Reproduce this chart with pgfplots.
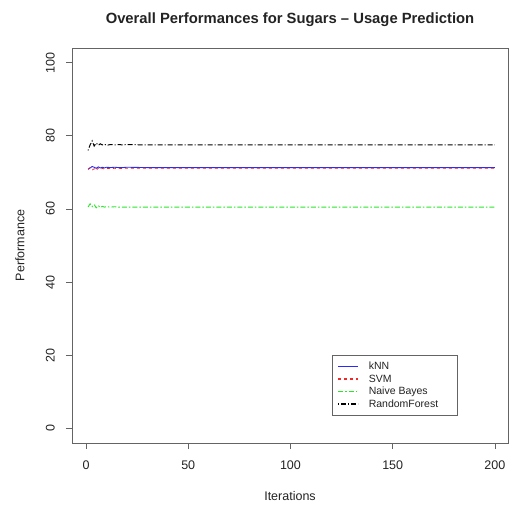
\documentclass[border=0pt]{standalone}
\usepackage{fontspec}
\setmainfont{Liberation Sans}
\usepackage{pgfplots}
\pgfplotsset{compat=1.18}
\definecolor{nbgreen}{RGB}{40,230,40}
\definecolor{axgray}{RGB}{100,100,100}
\definecolor{txt}{RGB}{35,35,35}
\definecolor{knnblue}{RGB}{40,40,255}
\definecolor{svmred}{RGB}{240,40,40}
\begin{document}
\begin{tikzpicture}[x=1pt,y=1pt]
\path[use as bounding box] (0,0) rectangle (509,509);
\begin{axis}[
  at={(72pt,66pt)}, anchor=south west,
  scale only axis, width=436pt, height=395pt,
  xmin=-6.85, xmax=206.4, ymin=-4, ymax=104,
  xtick={0,50,100,150,200}, ytick={0,20,40,60,80,100},
  tick align=outside, major tick length=6pt,
  xtick pos=left, ytick pos=left,
  axis line style={axgray, line width=0.8pt},
  every tick/.style={axgray, line width=0.8pt},
  tick label style={font=\fontsize{12.5}{14}\selectfont, text=txt},
  /pgf/number format/assume math mode=true,
  xticklabel style={anchor=north, inner sep=0pt, yshift=-12pt},
  yticklabel style={xshift=-11pt, rotate=90, anchor=south, inner sep=0pt},
  xlabel={Iterations}, ylabel={Performance},
  label style={font=\fontsize{12.5}{14}\selectfont, text=txt},
  xlabel style={at={(axis description cs:0.5,-0.134)}, anchor=center},
  ylabel style={at={(axis description cs:-0.1193,0.5)}, rotate=0, anchor=center},
  title={\bfseries Overall Performances for Sugars -- Usage Prediction},
  title style={font=\fontsize{14.8}{16}\selectfont, text=txt, at={(axis description cs:0.5,1.056)}, anchor=center},
  legend style={at={(0.596,0.068)}, anchor=south west, draw=axgray, line width=0.8pt,
    font=\fontsize{10.5}{12.7}\selectfont, text=txt, inner xsep=5pt, inner ysep=5pt,
    row sep=-0.5pt, cells={anchor=west}},
  legend cell align=left,
  legend image code/.code={\draw[#1, line width=1.5pt] (0pt,0pt) -- (20pt,0pt);},
]
\addplot[color=knnblue, draw=knnblue, line width=0.9pt] coordinates {
(1,70.8) (2,71.2) (3,71.6) (4,71.4) (5,71.1) (6,71.5) (7,71.2) (8,71.4) (9,71.2) (10,71.4)
(12,71.3) (14,71.4) (16,71.3) (18,71.3) (20,71.4) (30,71.3) (40,71.3) (50,71.3) (60,71.3)
(70,71.3) (80,71.3) (90,71.3) (100,71.3) (110,71.3) (120,71.3) (130,71.3) (140,71.3)
(150,71.3) (160,71.3) (170,71.3) (180,71.3) (190,71.3) (200,71.3)};
\addlegendentry{\hspace*{8pt}kNN}
\addplot[color=svmred, draw=svmred, line width=0.7pt, dash pattern=on 3pt off 3pt] coordinates {
(1,70.9) (2,71.3) (3,70.6) (4,71.0) (5,70.5) (6,71.2) (7,70.8) (8,71.1) (9,70.9) (10,71.1)
(12,71.0) (14,71.1) (16,71.0) (18,71.1) (20,71.1) (30,71.1) (40,71.1) (50,71.1) (60,71.1)
(70,71.1) (80,71.1) (90,71.1) (100,71.1) (110,71.1) (120,71.1) (130,71.1) (140,71.1)
(150,71.1) (160,71.1) (170,71.1) (180,71.1) (190,71.1) (200,71.1)};
\addlegendentry{\hspace*{8pt}SVM}
\addplot[color=nbgreen, draw=nbgreen, line width=0.9pt, dash pattern=on 5pt off 2pt on 1.5pt off 2pt] coordinates {
(1,60.5) (2,61.4) (3,60.6) (4,61.2) (5,60.3) (6,60.9) (7,60.4) (8,60.7) (9,60.5) (10,60.6)
(12,60.5) (14,60.6) (16,60.5) (18,60.5) (20,60.5) (30,60.5) (40,60.5) (50,60.5) (60,60.5)
(70,60.5) (80,60.5) (90,60.5) (100,60.5) (110,60.5) (120,60.5) (130,60.5) (140,60.5)
(150,60.5) (160,60.5) (170,60.5) (180,60.5) (190,60.5) (200,60.5)};
\addlegendentry{\hspace*{8pt}Naive Bayes}
\addplot[color=black, draw=black, line width=1pt, dash pattern=on 1pt off 2pt on 5pt off 2pt] coordinates {
(1,76.0) (2,77.5) (3,78.6) (4,77.2) (5,78.0) (6,77.4) (7,77.8) (8,77.5) (9,77.7) (10,77.4)
(12,77.6) (14,77.5) (16,77.6) (18,77.5) (20,77.6) (30,77.5) (40,77.5) (50,77.5) (60,77.5)
(70,77.5) (80,77.5) (90,77.5) (100,77.5) (110,77.5) (120,77.5) (130,77.5) (140,77.5)
(150,77.5) (160,77.5) (170,77.5) (180,77.5) (190,77.5) (200,77.5)};
\addlegendentry{\hspace*{8pt}RandomForest\hspace*{12pt}}
\end{axis}
\end{tikzpicture}
\end{document}
